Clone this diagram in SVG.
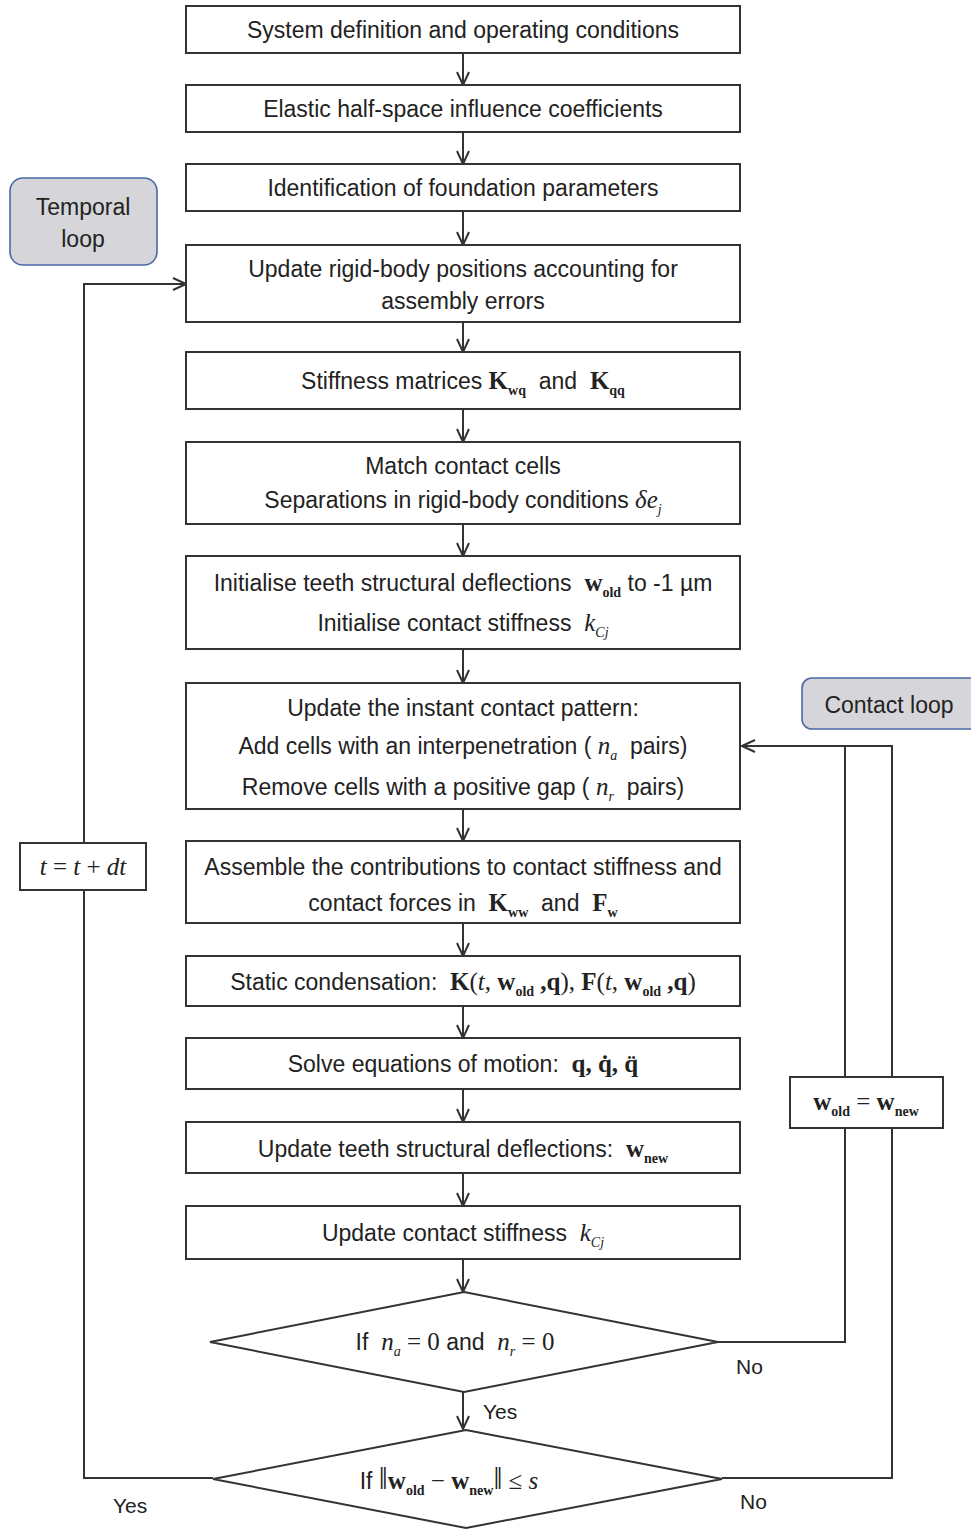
<svg xmlns="http://www.w3.org/2000/svg" width="971" height="1532" viewBox="0 0 971 1532">
<style>
.box{fill:#fff;stroke:#333;stroke-width:2}
.loop{fill:#d6d6da;stroke:#4a68a8;stroke-width:1.6}
.t{font-family:"Liberation Sans",Arial,sans-serif;font-size:23px;fill:#222;text-anchor:middle}
.lbl{font-family:"Liberation Sans",Arial,sans-serif;font-size:21px;fill:#222}
.b{font-family:"Liberation Serif","Times New Roman",serif;font-weight:bold;font-size:25px}
.bs{font-family:"Liberation Serif","Times New Roman",serif;font-weight:bold;font-size:14px}
.i{font-family:"Liberation Serif","Times New Roman",serif;font-style:italic;font-size:25px}
.is{font-family:"Liberation Serif","Times New Roman",serif;font-style:italic;font-size:14px}
.m{font-family:"Liberation Serif","Times New Roman",serif;font-size:25px}
.nb{font-family:"Liberation Serif","Times New Roman",serif;font-size:32px}
.c{fill:none;stroke:#333;stroke-width:2}
</style>
<defs>
<marker id="ah" markerWidth="16" markerHeight="16" refX="14" refY="7" orient="auto" markerUnits="userSpaceOnUse">
<path d="M1,1 L14,7 L1,13" fill="none" stroke="#333" stroke-width="2"/>
</marker>
</defs>

<g id="connectors">
<line class="c" x1="463" y1="53" x2="463" y2="85" marker-end="url(#ah)"/>
<line class="c" x1="463" y1="132" x2="463" y2="164" marker-end="url(#ah)"/>
<line class="c" x1="463" y1="211" x2="463" y2="245" marker-end="url(#ah)"/>
<line class="c" x1="463" y1="322" x2="463" y2="352" marker-end="url(#ah)"/>
<line class="c" x1="463" y1="409" x2="463" y2="442" marker-end="url(#ah)"/>
<line class="c" x1="463" y1="524" x2="463" y2="556" marker-end="url(#ah)"/>
<line class="c" x1="463" y1="649" x2="463" y2="683" marker-end="url(#ah)"/>
<line class="c" x1="463" y1="809" x2="463" y2="841" marker-end="url(#ah)"/>
<line class="c" x1="463" y1="923" x2="463" y2="956" marker-end="url(#ah)"/>
<line class="c" x1="463" y1="1006" x2="463" y2="1038" marker-end="url(#ah)"/>
<line class="c" x1="463" y1="1089" x2="463" y2="1122" marker-end="url(#ah)"/>
<line class="c" x1="463" y1="1173" x2="463" y2="1206" marker-end="url(#ah)"/>
<line class="c" x1="463" y1="1259" x2="463" y2="1292" marker-end="url(#ah)"/>
<line class="c" x1="463" y1="1392" x2="463" y2="1429" marker-end="url(#ah)"/>
<polyline class="c" points="213,1478 84,1478 84,284 186,284" marker-end="url(#ah)"/>
<polyline class="c" points="718,1342 845,1342 845,746"/>
<polyline class="c" points="722,1478 892,1478 892,746 742,746" marker-end="url(#ah)"/>
<text class="lbl" x="736" y="1374">No</text>
<text class="lbl" x="483" y="1419">Yes</text>
<text class="lbl" x="740" y="1509">No</text>
<text class="lbl" x="113" y="1513">Yes</text>
</g>

<g id="n1"><rect class="box" x="186" y="6" width="554" height="47"/>
<text class="t" x="463" y="38">System definition and operating conditions</text></g>
<g id="n2"><rect class="box" x="186" y="85" width="554" height="47"/>
<text class="t" x="463" y="117">Elastic half-space influence coefficients</text></g>
<g id="n3"><rect class="box" x="186" y="164" width="554" height="47"/>
<text class="t" x="463" y="196">Identification of foundation parameters</text></g>
<g id="n4"><rect class="box" x="186" y="245" width="554" height="77"/>
<text class="t" x="463" y="277">Update rigid-body positions accounting for</text>
<text class="t" x="463" y="309">assembly errors</text></g>
<g id="n5"><rect class="box" x="186" y="352" width="554" height="57"/>
<text class="t" x="463" y="389">Stiffness matrices <tspan class="b">K</tspan><tspan class="bs" dy="6">wq</tspan><tspan dy="-6">&#160;&#160;and&#160;&#160;</tspan><tspan class="b">K</tspan><tspan class="bs" dy="6">qq</tspan></text></g>
<g id="n6"><rect class="box" x="186" y="442" width="554" height="82"/>
<text class="t" x="463" y="474">Match contact cells</text>
<text class="t" x="463" y="508">Separations in rigid-body conditions <tspan class="i">δe</tspan><tspan class="is" dy="6">j</tspan></text></g>
<g id="n7"><rect class="box" x="186" y="556" width="554" height="93"/>
<text class="t" x="463" y="591">Initialise teeth structural deflections&#160;&#160;<tspan class="b">w</tspan><tspan class="bs" dy="6">old</tspan><tspan dy="-6"> to -1 µm</tspan></text>
<text class="t" x="463" y="631">Initialise contact stiffness&#160;&#160;<tspan class="i">k</tspan><tspan class="is" dy="6">Cj</tspan></text></g>
<g id="n8"><rect class="box" x="186" y="683" width="554" height="126"/>
<text class="t" x="463" y="716">Update the instant contact pattern:</text>
<text class="t" x="463" y="754">Add cells with an interpenetration ( <tspan class="i">n</tspan><tspan class="is" dy="6">a</tspan><tspan dy="-6">&#160;&#160;pairs)</tspan></text>
<text class="t" x="463" y="795">Remove cells with a positive gap ( <tspan class="i">n</tspan><tspan class="is" dy="6">r</tspan><tspan dy="-6">&#160;&#160;pairs)</tspan></text></g>
<g id="n9"><rect class="box" x="186" y="841" width="554" height="82"/>
<text class="t" x="463" y="875">Assemble the contributions to contact stiffness and</text>
<text class="t" x="463" y="911">contact forces in&#160;&#160;<tspan class="b">K</tspan><tspan class="bs" dy="6">ww</tspan><tspan dy="-6">&#160;&#160;and&#160;&#160;</tspan><tspan class="b">F</tspan><tspan class="bs" dy="6">w</tspan></text></g>
<g id="n10"><rect class="box" x="186" y="956" width="554" height="50"/>
<text class="t" x="463" y="990">Static condensation:&#160;&#160;<tspan class="b">K</tspan><tspan class="m">(</tspan><tspan class="i">t</tspan><tspan class="m">, </tspan><tspan class="b">w</tspan><tspan class="bs" dy="6">old</tspan><tspan class="b" dy="-6"> ,q</tspan><tspan class="m">), </tspan><tspan class="b">F</tspan><tspan class="m">(</tspan><tspan class="i">t</tspan><tspan class="m">, </tspan><tspan class="b">w</tspan><tspan class="bs" dy="6">old</tspan><tspan class="b" dy="-6"> ,q</tspan><tspan class="m">)</tspan></text></g>
<g id="n11"><rect class="box" x="186" y="1038" width="554" height="51"/>
<text class="t" x="463" y="1072">Solve equations of motion:&#160;&#160;<tspan class="b">q, q̇, q̈</tspan></text></g>
<g id="n12"><rect class="box" x="186" y="1122" width="554" height="51"/>
<text class="t" x="463" y="1157">Update teeth structural deflections:&#160;&#160;<tspan class="b">w</tspan><tspan class="bs" dy="6">new</tspan></text></g>
<g id="n13"><rect class="box" x="186" y="1206" width="554" height="53"/>
<text class="t" x="463" y="1241">Update contact stiffness&#160;&#160;<tspan class="i">k</tspan><tspan class="is" dy="6">Cj</tspan></text></g>
<g id="d1"><polygon class="box" points="464,1292 718,1342 464,1392 210,1342"/>
<text class="t" x="455" y="1350">If&#160;&#160;<tspan class="i">n</tspan><tspan class="is" dy="6">a</tspan><tspan class="m" dy="-6"> = 0</tspan> and&#160;&#160;<tspan class="i">n</tspan><tspan class="is" dy="6">r</tspan><tspan class="m" dy="-6"> = 0</tspan></text></g>
<g id="d2"><polygon class="box" points="466,1430 722,1479 466,1528 213,1479"/>
<text class="t" x="449" y="1489">If <tspan class="nb">‖</tspan><tspan class="b">w</tspan><tspan class="bs" dy="6">old</tspan><tspan class="m" dy="-6"> − </tspan><tspan class="b">w</tspan><tspan class="bs" dy="6">new</tspan><tspan class="nb" dy="-6">‖</tspan><tspan class="m"> ≤ </tspan><tspan class="i">s</tspan></text></g>

<g id="temporal-loop"><rect class="loop" x="10" y="178" width="147" height="87" rx="13"/>
<text class="t" x="83" y="215">Temporal</text>
<text class="t" x="83" y="247">loop</text></g>
<g id="contact-loop"><rect class="loop" x="802" y="678" width="180" height="51" rx="10"/>
<text class="t" x="889" y="713">Contact loop</text></g>
<g id="tdt"><rect class="box" x="20" y="843" width="126" height="47"/>
<text class="t" x="83" y="875"><tspan class="i">t</tspan><tspan class="m"> = </tspan><tspan class="i">t</tspan><tspan class="m"> + </tspan><tspan class="i">dt</tspan></text></g>
<g id="wupd"><rect class="box" x="790" y="1077" width="153" height="51"/>
<text class="t" x="866" y="1110"><tspan class="b">w</tspan><tspan class="bs" dy="6">old</tspan><tspan class="m" dy="-6"> = </tspan><tspan class="b">w</tspan><tspan class="bs" dy="6">new</tspan></text></g>
</svg>
